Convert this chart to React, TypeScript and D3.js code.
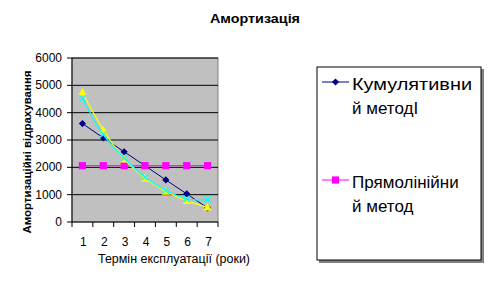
import React from "react";
import * as d3 from "d3";

const years = [1, 2, 3, 4, 5, 6, 7];
const cumulative = [3600, 3080, 2570, 2060, 1540, 1030, 515];
const straightLine = [2060, 2060, 2060, 2060, 2060, 2060, 2060];
const decliningA = [4750, 3370, 2300, 1600, 1120, 780, 540];
const decliningB = [4520, 3200, 2340, 1640, 1160, 840, 830];
const yTicks = [0, 1000, 2000, 3000, 4000, 5000, 6000];

const FONT = "'Liberation Sans', Arial, sans-serif";

export default function App() {
  const W = 498, H = 304;
  const plot = { left: 72, right: 218, top: 58, bottom: 222 };
  const x = d3.scaleBand<number>().domain(years).range([plot.left, plot.right]);
  const cx = (d: number) => (x(d) as number) + x.bandwidth() / 2;
  const y = d3.scaleLinear().domain([0, 6000]).range([plot.bottom, plot.top]);

  const straight = d3.line<number>().x((_, i) => cx(years[i])).y((v) => y(v));
  const smooth = d3
    .line<number>()
    .x((_, i) => cx(years[i]))
    .y((v) => y(v))
    .curve(d3.curveCatmullRom.alpha(0.5));

  const diamond = (px: number, py: number, r = 3.6) =>
    `M${px},${py - r}L${px + r},${py}L${px},${py + r}L${px - r},${py}Z`;
  const square = (px: number, py: number, r = 3.6) =>
    `M${px - r},${py - r}H${px + r}V${py + r}H${px - r}Z`;
  const tri = (px: number, py: number, r = 4.2) =>
    `M${px},${py - r}L${px + r},${py + r * 0.8}L${px - r},${py + r * 0.8}Z`;
  const cross = (px: number, py: number, r = 3.2) =>
    `M${px - r},${py - r}L${px + r},${py + r}M${px + r},${py - r}L${px - r},${py + r}`;

  const boundaries = d3.range(years.length + 1).map((i) => plot.left + i * x.step());

  return (
    <svg width={W} height={H} style={{ position: "absolute", left: 0, top: 0 }} fontFamily={FONT}>
      <rect x={0} y={0} width={W} height={H} fill="#fff" />
      <text x={255} y={23} textAnchor="middle" fontSize={13} fontWeight="bold" textLength={90} lengthAdjust="spacingAndGlyphs">
        Амортизація
      </text>

      <rect x={plot.left} y={plot.top} width={plot.right - plot.left} height={plot.bottom - plot.top} fill="#c0c0c0" stroke="#808080" strokeWidth={1} />
      {yTicks.filter((t) => t > 0).map((t) => (
        <line key={t} x1={plot.left} x2={plot.right} y1={y(t)} y2={y(t)} stroke="#000" strokeWidth={1} />
      ))}
      {/* axes */}
      <line x1={plot.left} x2={plot.left} y1={plot.top} y2={plot.bottom} stroke="#000" />
      <line x1={plot.left} x2={plot.right} y1={plot.bottom} y2={plot.bottom} stroke="#000" />
      {yTicks.map((t) => (
        <g key={t}>
          <line x1={plot.left - 5} x2={plot.left} y1={y(t)} y2={y(t)} stroke="#000" />
          <text x={62} y={y(t) + 4} textAnchor="end" fontSize={12}>
            {t}
          </text>
        </g>
      ))}
      {boundaries.map((b, i) => (
        <line key={i} x1={b} x2={b} y1={plot.bottom} y2={plot.bottom + 5} stroke="#000" />
      ))}
      {years.map((yr) => (
        <text key={yr} x={cx(yr) + 1} y={246} textAnchor="middle" fontSize={12}>
          {yr}
        </text>
      ))}
      <text x={174} y={263} textAnchor="middle" fontSize={12} textLength={152} lengthAdjust="spacingAndGlyphs">
        Термін експлуатації (роки)
      </text>
      <text
        transform="translate(31,152) rotate(-90)"
        textAnchor="middle"
        fontSize={11.5}
        fontWeight="bold"
        textLength={163}
        lengthAdjust="spacingAndGlyphs"
      >
        Амортизаційні відрахування
      </text>

      {/* series */}
      <path d={straight(cumulative) || ""} fill="none" stroke="#000080" strokeWidth={1} />
      {cumulative.map((v, i) => (
        <path key={i} d={diamond(cx(years[i]), y(v))} fill="#000080" />
      ))}
      <path d={straight(straightLine) || ""} fill="none" stroke="#ff00ff" strokeWidth={1} />
      {straightLine.map((v, i) => (
        <path key={i} d={square(cx(years[i]), y(v))} fill="#ff00ff" />
      ))}
      <path d={smooth(decliningA) || ""} fill="none" stroke="#ffff00" strokeWidth={1.2} />
      {decliningA.map((v, i) => (
        <path key={i} d={tri(cx(years[i]), y(v))} fill="#ffff00" />
      ))}
      <path d={smooth(decliningB) || ""} fill="none" stroke="#00ffff" strokeWidth={1.2} />
      {decliningB.map((v, i) => (
        <path key={i} d={cross(cx(years[i]), y(v))} fill="none" stroke="#00ffff" strokeWidth={1.2} />
      ))}

      {/* legend */}
      <rect x={319} y={69} width={165} height={194} fill="#808080" />
      <rect x={317} y={67} width={164} height={193} fill="#fff" stroke="#000" strokeWidth={1} />
      <line x1={322} x2={349} y1={82} y2={82} stroke="#000080" />
      <path d={diamond(335.5, 82)} fill="#000080" />
      <text x={352} y={90} fontSize={17} textLength={120} lengthAdjust="spacingAndGlyphs">Кумулятивни</text>
      <text x={352} y={113.5} fontSize={17}>й методІ</text>
      <line x1={322} x2={349} y1={180} y2={180} stroke="#ff00ff" />
      <path d={square(335.5, 180)} fill="#ff00ff" />
      <text x={352} y={188} fontSize={17}>Прямолінійни</text>
      <text x={352} y={211.5} fontSize={17}>й метод</text>
    </svg>
  );
}
